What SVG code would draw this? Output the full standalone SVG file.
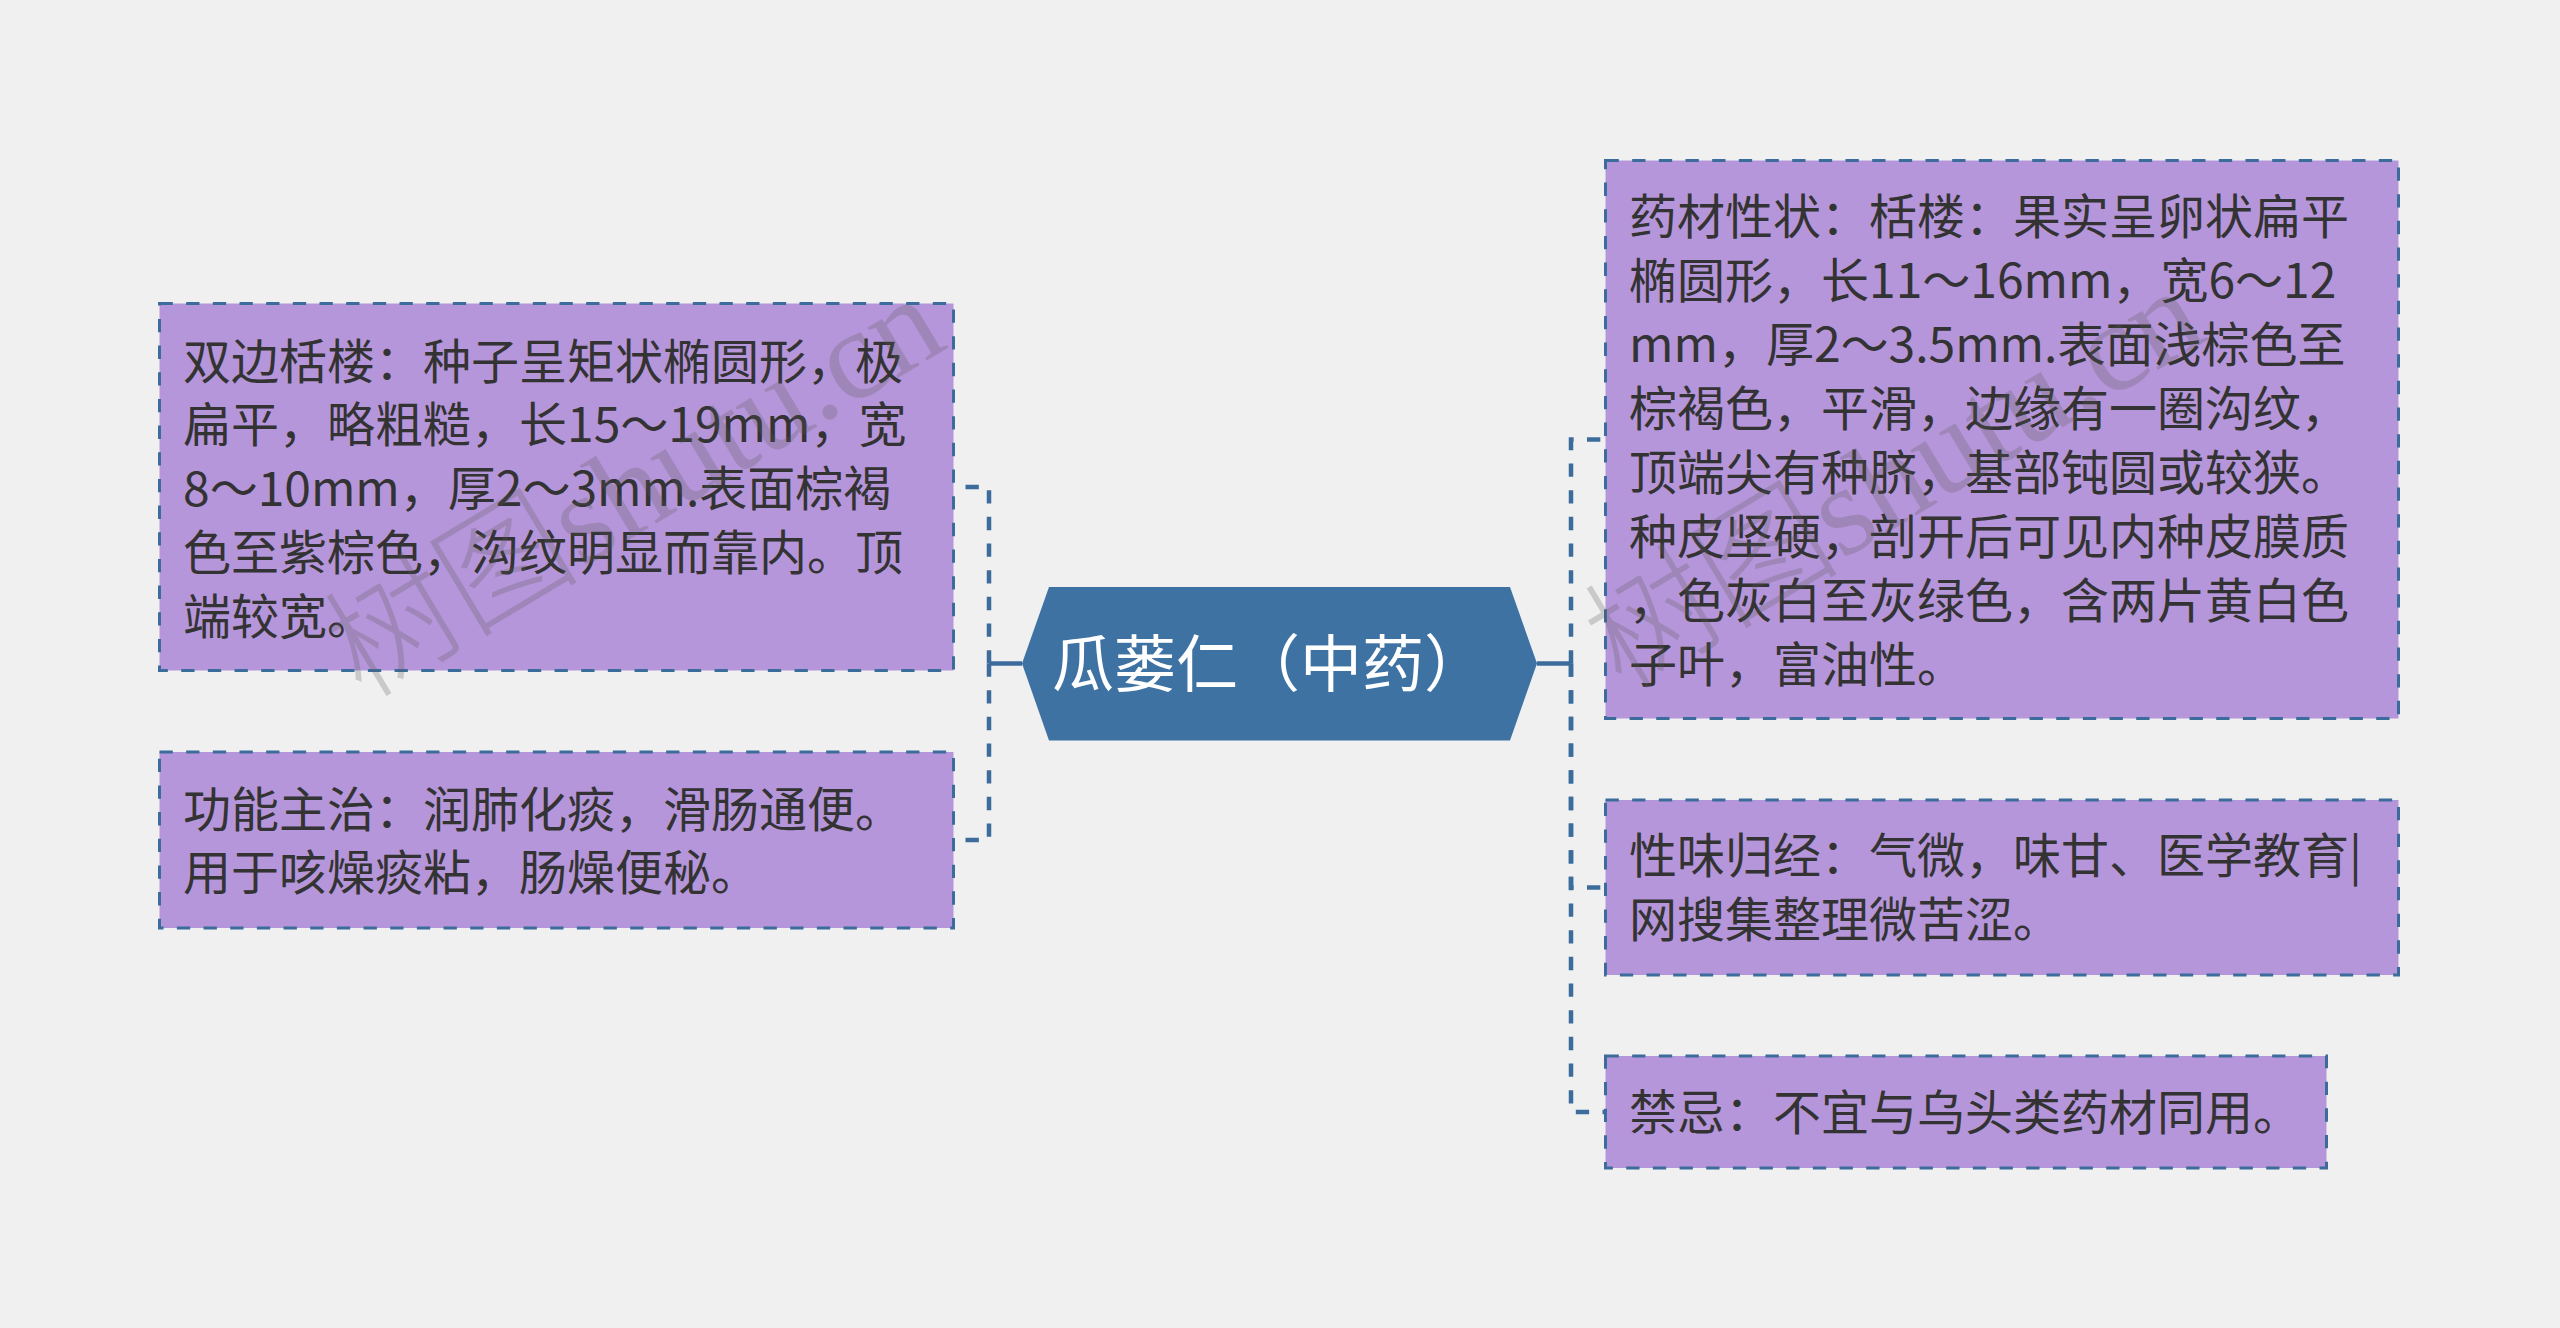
<svg xmlns="http://www.w3.org/2000/svg" width="2560" height="1328" viewBox="0 0 2560 1328">
<style>
.bg{fill:#f0f0f0}
.box{fill:#b696da;stroke:#3b6c9c;stroke-width:3;stroke-dasharray:13.333 13.333}
.txt{font-family:"Microsoft YaHei","Noto Sans CJK SC","Noto Sans",sans-serif;font-size:48px;fill:#333333}
.ctxt{font-family:"Microsoft YaHei","Noto Sans CJK SC","Noto Sans",sans-serif;font-size:62px;fill:#ffffff}
.hex{fill:#3e72a3}
.solid{fill:none;stroke:#3b6c9c;stroke-width:4.5}
.dash{fill:none;stroke:#3b6c9c;stroke-width:4.5;stroke-dasharray:13.333 13.333}
.wm{font-family:"Liberation Serif","Noto Sans CJK SC",serif;font-size:128px;fill:#5a5a5a;opacity:0.25;font-weight:300}
</style>
<rect class="bg" x="0" y="0" width="2560" height="1328"/>
<g id="connectors">
<path class="solid" d="M1022,663.5 H989"/>
<path class="dash" d="M989,663.5 V487 H954"/>
<path class="dash" d="M989,663.5 V840 H954"/>
<path class="solid" d="M1537,663.5 H1571"/>
<path class="dash" d="M1571,663.5 V439.5 H1605"/>
<path class="dash" d="M1571,663.5 V887.5 H1605"/>
<path class="dash" d="M1571,663.5 V1112 H1605"/>
</g>
<g id="node-center">
<polygon class="hex" points="1022,663.5 1049,587 1510,587 1537,663.5 1510,740.5 1049,740.5"/>
<text class="ctxt" x="1052" y="687">瓜蒌仁（中药）</text>
</g>
<g id="node-l1">
<rect class="box" x="159.5" y="303.5" width="794" height="367"/>
<text class="txt" x="183" y="379">双边栝楼：种子呈矩状椭圆形，极</text>
<text class="txt" x="183" y="442">扁平，略粗糙，长15～19mm，宽</text>
<text class="txt" x="183" y="506">8～10mm，厚2～3mm.表面棕褐</text>
<text class="txt" x="183" y="570">色至紫棕色，沟纹明显而靠内。顶</text>
<text class="txt" x="183" y="634">端较宽。</text>
</g>
<g id="node-l2">
<rect class="box" x="159.5" y="752" width="794" height="176"/>
<text class="txt" x="183" y="827">功能主治：润肺化痰，滑肠通便。</text>
<text class="txt" x="183" y="890">用于咳燥痰粘，肠燥便秘。</text>
</g>
<g id="node-r1">
<rect class="box" x="1605.5" y="160.5" width="793" height="558"/>
<text class="txt" x="1629" y="234">药材性状：栝楼：果实呈卵状扁平</text>
<text class="txt" x="1629" y="298">椭圆形，长11～16mm，宽6～12</text>
<text class="txt" x="1629" y="362">mm，厚2～3.5mm.表面浅棕色至</text>
<text class="txt" x="1629" y="426">棕褐色，平滑，边缘有一圈沟纹，</text>
<text class="txt" x="1629" y="490">顶端尖有种脐，基部钝圆或较狭。</text>
<text class="txt" x="1629" y="554">种皮坚硬，剖开后可见内种皮膜质</text>
<text class="txt" x="1629" y="618">，色灰白至灰绿色，含两片黄白色</text>
<text class="txt" x="1629" y="682">子叶，富油性。</text>
</g>
<g id="node-r2">
<rect class="box" x="1605.5" y="800" width="793" height="175"/>
<text class="txt" x="1629" y="873">性味归经：气微，味甘、医学教育|</text>
<text class="txt" x="1629" y="937">网搜集整理微苦涩。</text>
</g>
<g id="node-r3">
<rect class="box" x="1605.5" y="1056" width="721" height="112"/>
<text class="txt" x="1629" y="1130">禁忌：不宜与乌头类药材同用。</text>
</g>
<g id="watermarks">
<text class="wm" transform="translate(362,700) rotate(-31)">树图shutu.cn</text>
<text class="wm" transform="translate(1622,692) rotate(-31)">树图shutu.cn</text>
</g>
</svg>
